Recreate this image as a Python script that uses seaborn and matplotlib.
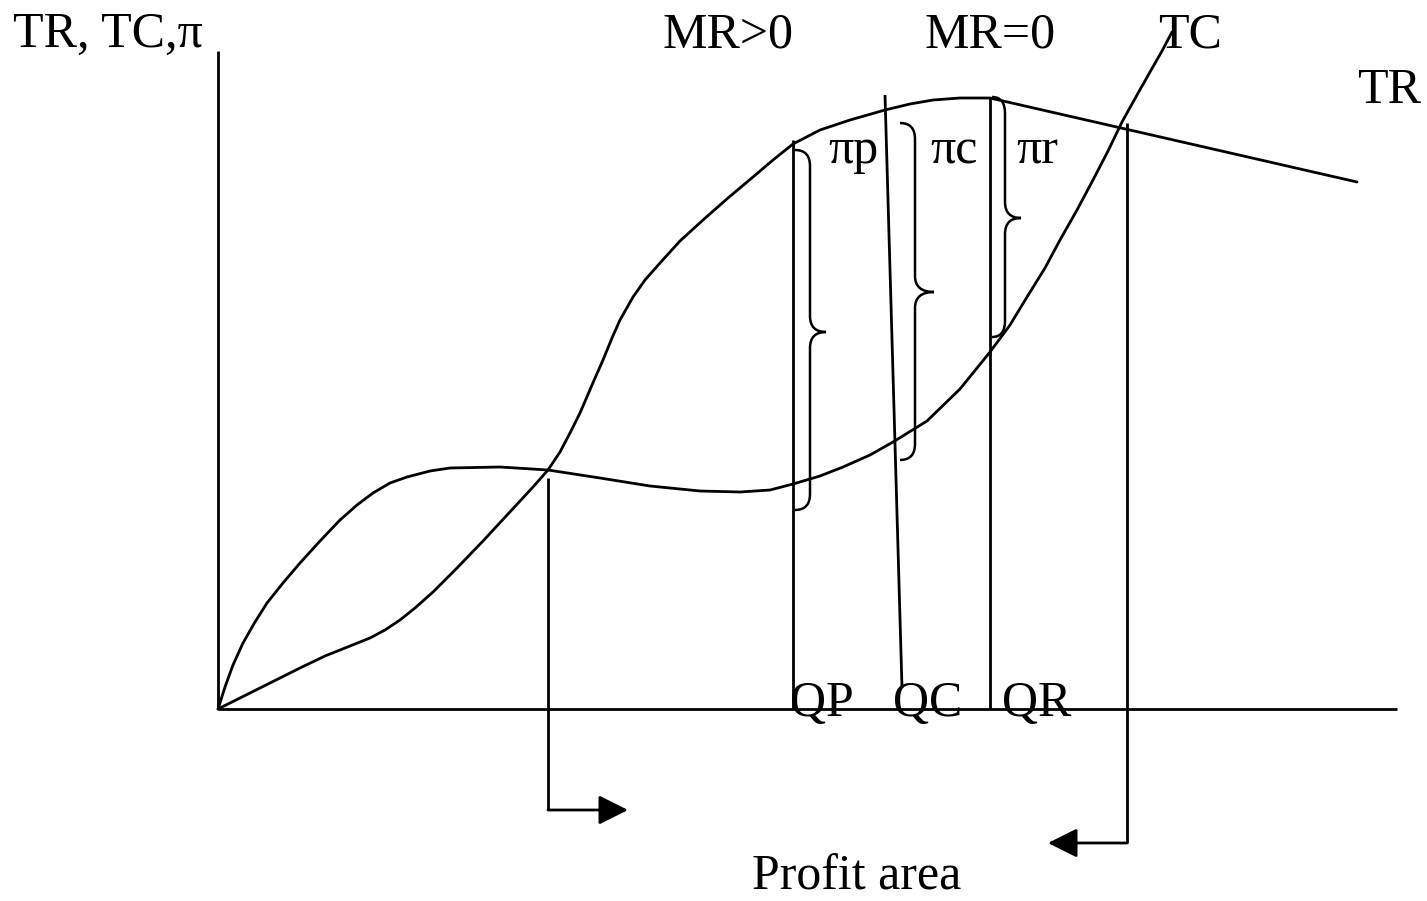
import matplotlib
matplotlib.use("Agg")
import matplotlib.pyplot as plt
from matplotlib.path import Path
from matplotlib.patches import PathPatch
import seaborn as sns

# ==========================================
# DIAGRAM DATA (quantity q, value v; origin at the axes corner)
# ==========================================
# curve ending at the "TC" label
tc_q = [0, 7, 15, 25, 37, 49, 65, 82, 102, 122, 139, 155, 172, 189, 212, 232,
        282, 330, 382, 432, 482, 522, 552, 575, 602, 625, 652, 675, 709, 742,
        772, 792, 809, 827, 842, 859, 875, 890, 904, 919, 932, 944, 954]
tc_v = [0, 22, 44, 66, 87, 106, 126, 146, 168, 189, 204, 216, 226, 232, 238, 241,
        242, 239, 231, 223, 218, 217, 219, 225, 233, 242, 254, 267, 288, 320,
        357, 384, 412, 441, 469, 499, 529, 558, 587, 614, 637, 658, 677]

# curve ending at the "TR" label
tr_q = [0, 42, 82, 107, 122, 137, 152, 167, 182, 197, 215, 240, 265, 290, 315, 330,
        342, 352, 362, 374, 385, 394, 402, 415, 427, 442, 462, 485, 510, 535,
        555, 575, 602, 632, 667, 692, 715, 742, 772, 1139]
tr_v = [0, 21, 41, 53, 59, 65, 71, 79, 89, 101, 117, 142, 168, 195, 222, 239,
        257, 276, 296, 324, 349, 371, 389, 412, 429, 446, 468, 489, 511, 532,
        549, 565, 579, 589, 599, 605, 609, 611, 611, 527]

# output levels
q_labels = ["QP", "QC", "QR"]
q_label_q = [572, 675, 784]
q_line_bottom = [575, 684, 772]
q_line_bottom_v = [0, 21, 0]
q_line_top = [575, 667, 772]
q_line_top_v = [569, 614, 612]

# profit braces: left, stem, tip, top, middle, bottom
brace_labels = ["\u03c0p", "\u03c0c", "\u03c0r"]
brace_x0 = [577, 682, 774]
brace_xm = [592, 697, 787]
brace_xt = [608, 716, 803]
brace_top = [559, 586, 612]
brace_mid = [377, 417, 491]
brace_bot = [199, 249, 372]
brace_label_q = [610, 712, 798]

# break-even markers with arrows to the profit area
be_q = [330, 909]
be_v = [231, 586]
be_arrow_v = [-101, -134]
be_arrow_end = [410, 830]


def brace_path(x0, xm, xt, top, mid, bot, r=16):
    verts = [(x0, top), (xm, top), (xm, top - r),
             (xm, mid + r), (xm, mid), (xt, mid),
             (xm, mid), (xm, mid - r),
             (xm, bot + r), (xm, bot), (x0, bot)]
    codes = [Path.MOVETO, Path.CURVE3, Path.CURVE3,
             Path.LINETO, Path.CURVE3, Path.CURVE3,
             Path.CURVE3, Path.CURVE3,
             Path.LINETO, Path.CURVE3, Path.CURVE3]
    return Path(verts, codes)


def main():
    sns.set_theme(style="white")
    plt.rcParams["font.family"] = ["Liberation Serif", "DejaVu Serif"]
    plt.rcParams["text.color"] = "black"

    fig = plt.figure(figsize=(14.27, 9.01), dpi=100)
    ax = fig.add_axes([0, 0, 1, 1])
    ax.set_xlim(-218, 1209)
    ax.set_ylim(-192, 709)
    ax.axis("off")

    lw = 2.0
    kw = dict(color="black", solid_capstyle="butt")

    # axes of the diagram
    ax.plot([0, 0], [0, 658], lw=lw, **kw)
    ax.plot([0, 1179], [0, 0], lw=lw, **kw)

    # TC and TR curves
    sns.lineplot(x=tc_q, y=tc_v, sort=False, estimator=None, color="black", lw=lw, ax=ax)
    sns.lineplot(x=tr_q, y=tr_v, sort=False, estimator=None, color="black", lw=lw, ax=ax)

    # QP, QC, QR lines
    for qb, vb, qt, vt in zip(q_line_bottom, q_line_bottom_v, q_line_top, q_line_top_v):
        ax.plot([qb, qt], [vb, vt], lw=lw, **kw)

    # braces
    for x0, xm, xt, top, mid, bot in zip(brace_x0, brace_xm, brace_xt, brace_top, brace_mid, brace_bot):
        ax.add_patch(PathPatch(brace_path(x0, xm, xt, top, mid, bot), fill=False,
                               edgecolor="black", lw=1.8))

    # break-even drop lines with arrows
    for q, v, va, qe in zip(be_q, be_v, be_arrow_v, be_arrow_end):
        ax.plot([q, q], [v, va], lw=lw, **kw)
        ax.annotate("", xy=(qe, va), xytext=(q, va),
                    arrowprops=dict(arrowstyle="-|>,head_length=0.9,head_width=0.45",
                                    mutation_scale=20, color="black", lw=lw,
                                    shrinkA=0, shrinkB=0))

    fs = 36
    ax.text(-205, 662, "TR, TC,\u03c0", fontsize=fs, va="baseline", ha="left")
    ax.text(445, 662, "MR>0", fontsize=fs, va="baseline", ha="left")
    ax.text(706, 662, "MR=0", fontsize=fs, va="baseline", ha="left")
    ax.text(940, 662, "TC", fontsize=fs, va="baseline", ha="left")
    ax.text(1139, 606, "TR", fontsize=fs, va="baseline", ha="left")
    for lab, q in zip(brace_labels, brace_label_q):
        ax.text(q, 546, lab, fontsize=fs, va="baseline", ha="left")
    for lab, q in zip(q_labels, q_label_q):
        ax.text(q, -7, lab, fontsize=fs, va="baseline", ha="left")
    ax.text(534, -181, "Profit area", fontsize=fs, va="baseline", ha="left")

    fig.savefig("out.png", dpi=100)


if __name__ == "__main__":
    main()
